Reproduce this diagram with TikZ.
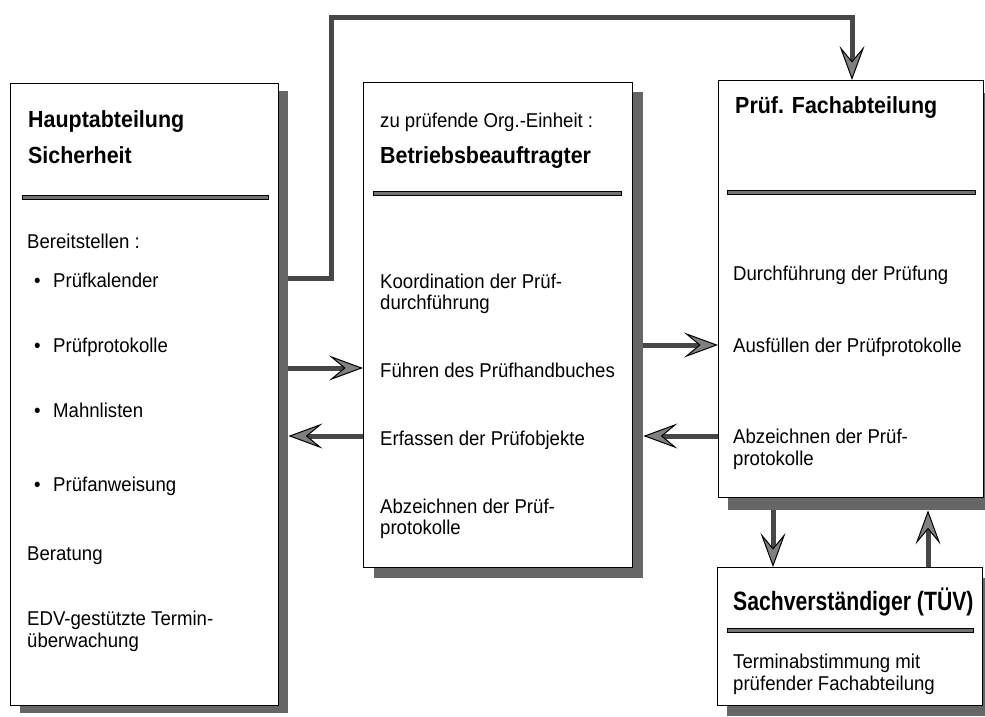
\documentclass[tikz,border=0pt]{standalone}
\usepackage{fontspec}
\setmainfont{Liberation Sans}
\newfontfamily\bodyfont{Liberation Sans}[FakeStretch=0.93]
\newfontfamily\titlefont{Liberation Sans}[FakeStretch=0.92]
\newfontfamily\bigtitlefont{Liberation Sans}[FakeStretch=0.80, BoldFeatures={FakeStretch=0.80}]
\usetikzlibrary{arrows.meta}
\begin{document}
\begin{tikzpicture}[x=1pt,y=-1pt,
  box/.style={draw=black, line width=1.1pt, fill=white, anchor=north west, inner sep=0pt},
  shd/.style={fill=black!60, draw=none, anchor=north west, inner sep=0pt},
  txt/.style={anchor=base west, inner sep=0pt, font=\bodyfont\fontsize{20}{22}\selectfont},
  ttl/.style={anchor=base west, inner sep=0pt, font=\titlefont\bfseries\fontsize{23.3}{27}\selectfont},
  bigttl/.style={anchor=base west, inner sep=0pt, font=\bigtitlefont\bfseries\fontsize{26.5}{32}\selectfont},
  sep/.style={draw=black, line width=0.6pt, fill=black!55},
  conn/.style={draw=black!72, line width=5pt},
  arr/.style={conn, -{Stealth[length=34pt, width=25pt, inset=15pt, line width=1pt, color=black, fill=black!50]}}
]
\useasboundingbox (0,0) rectangle (985,716);

% shadows
\node[shd, minimum width=268pt, minimum height=622pt] (Ls) at (20,91) {};
\node[shd, minimum width=269pt, minimum height=486pt] (Ms) at (374,92) {};
\node[shd, minimum width=265pt, minimum height=417pt] (Ps) at (728,93) {};
\node[shd, minimum width=265pt, minimum height=138pt] (Ts) at (727,578) {};

% boxes
\node[box, minimum width=268pt, minimum height=622pt] (L) at (10,83) {};
\node[box, minimum width=269pt, minimum height=485pt] (M) at (363,82) {};
\node[box, minimum width=265pt, minimum height=417pt] (P) at (718,80) {};
\node[box, minimum width=265pt, minimum height=138pt] (T) at (717,567) {};

% separators
\filldraw[sep] (22,195) rectangle (268,199);
\filldraw[sep] (373,191) rectangle (621,195);
\filldraw[sep] (727,190) rectangle (975,194);
\filldraw[sep] (727,628) rectangle (973,632);

% connectors
\coordinate (k1) at (331,17);
\coordinate (k2) at (852,17);
\coordinate (ra) at (0,278);
\coordinate (r1) at (0,345);
\coordinate (r2) at (0,368);
\coordinate (r3) at (0,436);
\coordinate (cd) at (773,0);
\coordinate (cu) at (928,0);
\draw[arr] (Ls.east |- ra) -| (k1) -| (P.north -| k2);
\draw[arr] (Ls.east |- r2) -- (M.west |- r2);
\draw[arr] (M.west |- r3) -- (Ls.east |- r3);
\draw[arr] (Ms.east |- r1) -- (P.west |- r1);
\draw[arr] (P.west |- r3) -- (Ms.east |- r3);
\draw[arr] (Ps.south -| cd) -- (T.north -| cd);
\draw[arr] (T.north -| cu) -- (Ps.south -| cu);

% left box text
\node[ttl] (l1) at (28,127) {Hauptabteilung};
\node[ttl] (l2) at (28,163) {Sicherheit};
\node[txt] (l3) at (27,248) {Bereitstellen :};
\node[txt] (lb1) at (34,287) {•};
\node[txt] (l4) at (53,287) {Prüfkalender};
\node[txt] (lb2) at (34,352) {•};
\node[txt] (l5) at (53,352) {Prüfprotokolle};
\node[txt] (lb3) at (34,417) {•};
\node[txt] (l6) at (53,417) {Mahnlisten};
\node[txt] (lb4) at (34,491) {•};
\node[txt] (l7) at (53,491) {Prüfanweisung};
\node[txt] (l8) at (27,560) {Beratung};
\node[txt] (l9) at (27,625) {EDV-gestützte Termin-};
\node[txt] (l10) at (27,647) {überwachung};

% middle box text
\node[txt] (m1) at (380,127) {zu prüfende Org.-Einheit :};
\node[ttl] (m2) at (380,163) {Betriebsbeauftragter};
\node[txt] (m3) at (380,288) {Koordination der Prüf-};
\node[txt] (m4) at (380,309) {durchführung};
\node[txt] (m5) at (380,377) {Führen des Prüfhandbuches};
\node[txt] (m6) at (380,445) {Erfassen der Prüfobjekte};
\node[txt] (m7) at (380,513) {Abzeichnen der Prüf-};
\node[txt] (m8) at (380,534) {protokolle};

% right box text
\node[ttl] (p1) at (735,113) {Prüf. Fachabteilung};
\node[txt] (p2) at (733,280) {Durchführung der Prüfung};
\node[txt] (p3) at (733,352) {Ausfüllen der Prüfprotokolle};
\node[txt] (p4) at (733,443) {Abzeichnen der Prüf-};
\node[txt] (p5) at (733,465) {protokolle};

% TUEV box text
\node[bigttl] (t1) at (733,610) {Sachverständiger (TÜV)};
\node[txt] (t2) at (733,668) {Terminabstimmung mit};
\node[txt] (t3) at (733,690) {prüfender Fachabteilung};
\end{tikzpicture}
\end{document}
